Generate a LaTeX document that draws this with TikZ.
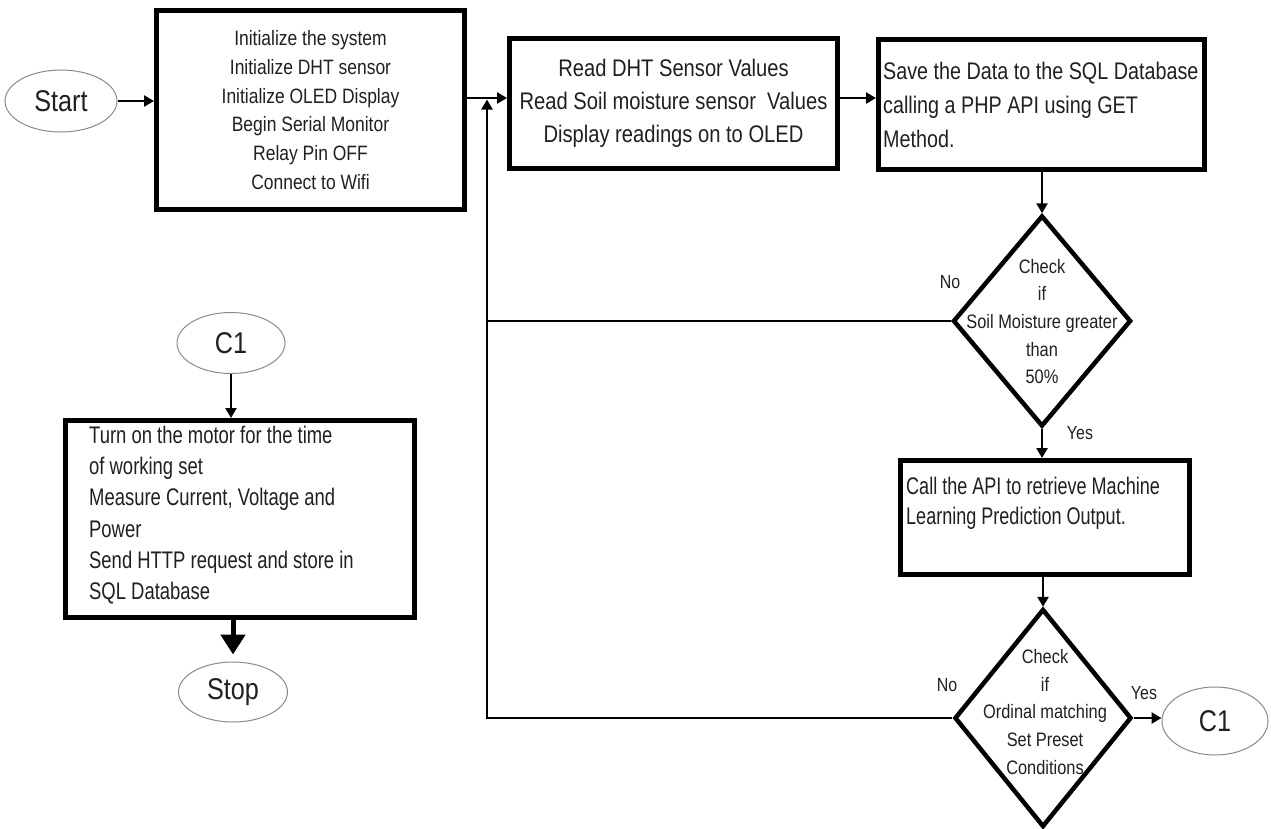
\documentclass[tikz,border=0pt]{standalone}
\usepackage{fontspec}
\setmainfont{Liberation Sans}[FakeStretch=0.84]
\usetikzlibrary{arrows.meta,shapes.geometric}
\definecolor{txt}{HTML}{202020}
\definecolor{ovalgray}{HTML}{8A8A8A}
\begin{document}
\begin{tikzpicture}[x=1pt,y=-1pt,
  box/.style={draw=black,line width=5pt,inner sep=0pt},
  oval/.style={ellipse,draw=ovalgray,line width=1pt,inner sep=0pt,text=txt,font=\fontsize{30}{36}\selectfont},
  dec/.style={diamond,draw=black,line width=4.5pt,inner sep=0pt},
  conn/.style={line width=2.8pt,draw=black},
  arr/.style={conn,-{Triangle[length=10pt,width=11pt]}},
  bigtext/.style={text=txt,inner sep=0pt,font=\fontsize{24}{33}\selectfont},
  dtext/.style={text=txt,inner sep=0pt,align=center,font=\fontsize{19.5}{27.6}\selectfont},
  lbl/.style={text=txt,inner sep=0pt,font=\fontsize{19}{23}\selectfont}
]
\useasboundingbox (0,0) rectangle (1271,828);
\fill[white] (0,0) rectangle (1271,828);

% nodes
\node[oval,minimum width=112,minimum height=62] (start) at (61,101) {Start};
\node[box,minimum width=308,minimum height=199,align=center,text=txt,font=\fontsize{20.8}{28.8}\selectfont] (init) at (310.5,110)
  {Initialize the system\\Initialize DHT sensor\\Initialize OLED Display\\Begin Serial Monitor\\Relay Pin OFF\\Connect to Wifi};
\node[box,bigtext,minimum width=328,minimum height=130,align=center] (read) at (673.5,103.5)
  {Read DHT Sensor Values\\Read Soil moisture sensor\ \ Values\\Display readings on to OLED};
\node[box,minimum width=326,minimum height=130] (save) at (1041.5,104.5) {};
\node[bigtext,align=left,anchor=west,font=\fontsize{24}{34}\selectfont,transform shape,xscale=0.98] (savet) at (883,104.5)
  {Save the Data to the SQL Database\\calling a PHP API using GET\\Method.};

\node[dec,minimum width=178,minimum height=211] (d1) at (1042,321) {};
\node[dtext] (d1t) at (1042,321.5) {Check\\if\\Soil Moisture greater\\than\\50\%};

\node[box,minimum width=289,minimum height=114] (ml) at (1045,517.5) {};
\node[bigtext,align=left,anchor=west,font=\fontsize{24}{30}\selectfont,transform shape,xscale=0.895] (mlt) at (906,503)
  {Call the API to retrieve Machine\\Learning Prediction Output.};

\node[dec,minimum width=177,minimum height=218] (d2) at (1043,718) {};
\node[dtext] (d2t) at (1045,712) {Check\\if\\Ordinal matching\\Set Preset\\Conditions};

\node[oval,minimum width=106,minimum height=68] (c1r) at (1215,721) {C1};

\node[oval,minimum width=108,minimum height=61] (c1l) at (231,343) {C1};
\node[box,minimum width=349,minimum height=197] (work) at (240,519) {};
\node[bigtext,align=left,anchor=west,font=\fontsize{24}{31.2}\selectfont,transform shape,xscale=0.915] (workt) at (89,515)
  {Turn on the motor for the time\\of working set\\Measure Current, Voltage and\\Power\\Send HTTP request and store in\\SQL Database};
\node[oval,minimum width=109,minimum height=60] (stop) at (233,692) {Stop};

% labels
\node[lbl] (no1) at (950,282) {No};
\node[lbl] (yes1) at (1080,433) {Yes};
\node[lbl] (no2) at (947,685) {No};
\node[lbl] (yes2) at (1144,693) {Yes};

% junction on the main line
\coordinate (j) at (487,98);

% connectors
\draw[arr] (start.east) -- (init.west |- start.east);
\draw[arr] (init.east |- j) -- (read.west |- j);
\draw[arr] (read.east |- j) -- (save.west |- j);
\draw[arr] (save.south -| d1.north) -- (d1.north);
\draw[arr] (d1.south) -- (d1.south |- ml.north);
\draw[arr] (ml.south -| d2.north) -- (d2.north);
\draw[arr] (d2.east) -- (d2.east -| c1r.west);
\draw[conn] (d1.west) -- (d1.west -| j);
\draw[arr] (d2.west) -- (d2.west -| j) -- ([yshift=-1.5pt]j);
\draw[arr] (c1l.south) -- (c1l.south |- work.north);
\draw[line width=5pt,-{Triangle[length=20pt,width=24pt]},shorten >=7pt] (work.south -| stop.north) -- (stop.north);
\end{tikzpicture}
\end{document}
